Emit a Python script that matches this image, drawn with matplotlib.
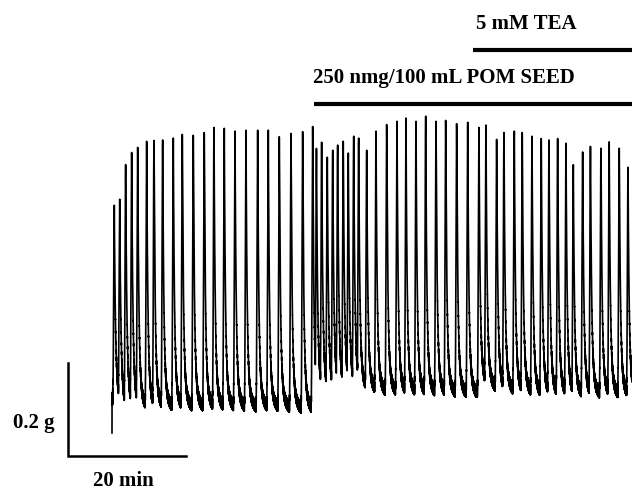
import numpy as np
import matplotlib.pyplot as plt

plt.rcParams['font.family'] = ['Liberation Serif', 'DejaVu Serif']

# contraction peaks: time (min) and peak tension (g)
peak_t = [0.39, 1.31, 2.32, 3.34, 4.36, 5.88, 7.12, 8.59, 10.39, 11.92,
          13.78, 15.64, 17.29, 19.03, 20.85, 22.71, 24.69, 26.49, 28.36, 30.34,
          32.32, 34.02, 34.66, 35.54, 36.49, 37.41, 38.25, 39.20, 40.05, 40.97,
          41.81, 43.17, 44.75, 46.56, 48.31, 49.83, 51.53, 53.17, 54.92, 56.56,
          58.42, 60.29, 62.20, 63.39, 65.20, 66.44, 68.19, 69.54, 71.19, 72.76,
          74.07, 75.54, 76.95, 78.19, 79.78, 81.10, 82.88, 84.27, 85.98, 87.46]
peak_g = [0.424, 0.437, 0.514, 0.540, 0.551, 0.564, 0.566, 0.564, 0.568, 0.579,
          0.577, 0.583, 0.591, 0.589, 0.583, 0.585, 0.585, 0.585, 0.574, 0.581,
          0.585, 0.596, 0.549, 0.562, 0.527, 0.542, 0.553, 0.564, 0.536, 0.572,
          0.568, 0.542, 0.583, 0.600, 0.604, 0.611, 0.604, 0.615, 0.607, 0.609,
          0.602, 0.602, 0.594, 0.596, 0.568, 0.583, 0.583, 0.583, 0.572, 0.570,
          0.564, 0.570, 0.557, 0.511, 0.541, 0.553, 0.549, 0.560, 0.549, 0.508]

# resting tension between contractions
base_t = [0.0, 2.2, 29.3, 33.6, 34.2, 35.3, 39.5, 42.9, 46.3, 60.7, 61.7, 62.9, 66.6, 72.5, 88.1]
base_g = [0.012, -0.010, -0.012, -0.016, -0.018, 0.016, 0.031, 0.029, 0.022, 0.018, 0.016, 0.037, 0.026, 0.018, 0.016]
start_g = -0.06

# drug additions (min)
pom_start = 34.24
tea_start = 61.24

t = np.arange(0, 88.14, 0.01)
baseline = np.interp(t, base_t, base_g)
rise = np.zeros_like(t)
for tp, gp in zip(peak_t, peak_g):
    amp = gp - np.interp(tp, base_t, base_g)
    s = t - tp
    sp = np.clip(s, 0, None)
    k = np.where(s < 0, np.exp(-(s / 0.14) ** 2),
                 0.88 * np.exp(-sp / 0.2) + 0.12 * np.exp(-sp / 0.8))
    rise = np.maximum(rise, amp * k)
trace = baseline + rise
# recording jitter, heaviest near rest
jitter = 0.004 + 0.009 * np.exp(-rise / 0.06)
trace += jitter * np.where(np.arange(t.size) % 2, 1.0, -1.0)
trace[0] = start_g

fig = plt.figure(figsize=(6.32, 4.91), dpi=100)
ax = fig.add_axes([0, 0, 1, 1])
ax.set_xlim(-112 / 5.9, 520 / 5.9)
ax.set_ylim(-86 / 466.5, 405 / 466.5)
ax.axis('off')

ax.plot(t, trace, color='black', lw=1.2)

# drug bars
xmax = ax.get_xlim()[1]
ax.plot([tea_start, xmax], [0.761, 0.761], color='black', lw=3.0, solid_capstyle='butt')
ax.plot([pom_start, xmax], [0.645, 0.645], color='black', lw=3.0, solid_capstyle='butt')
ax.text(tea_start + 0.4, 0.805, '5 mM TEA', fontsize=15, fontweight='bold', va='baseline')
ax.text(pom_start - 0.2, 0.690, '250 nmg/100 mL POM SEED', fontsize=15, fontweight='bold', va='baseline')

# scale bars: 0.2 g and 20 min
ax.plot([-7.45, -7.45, 12.6], [0.09, -0.11, -0.11], color='black', lw=1.8, solid_joinstyle='miter')
ax.text(-16.8, -0.050, '0.2 g', fontsize=15, fontweight='bold', va='baseline')
ax.text(-3.3, -0.174, '20 min', fontsize=15, fontweight='bold', va='baseline')

fig.savefig('out.png', dpi=100)
